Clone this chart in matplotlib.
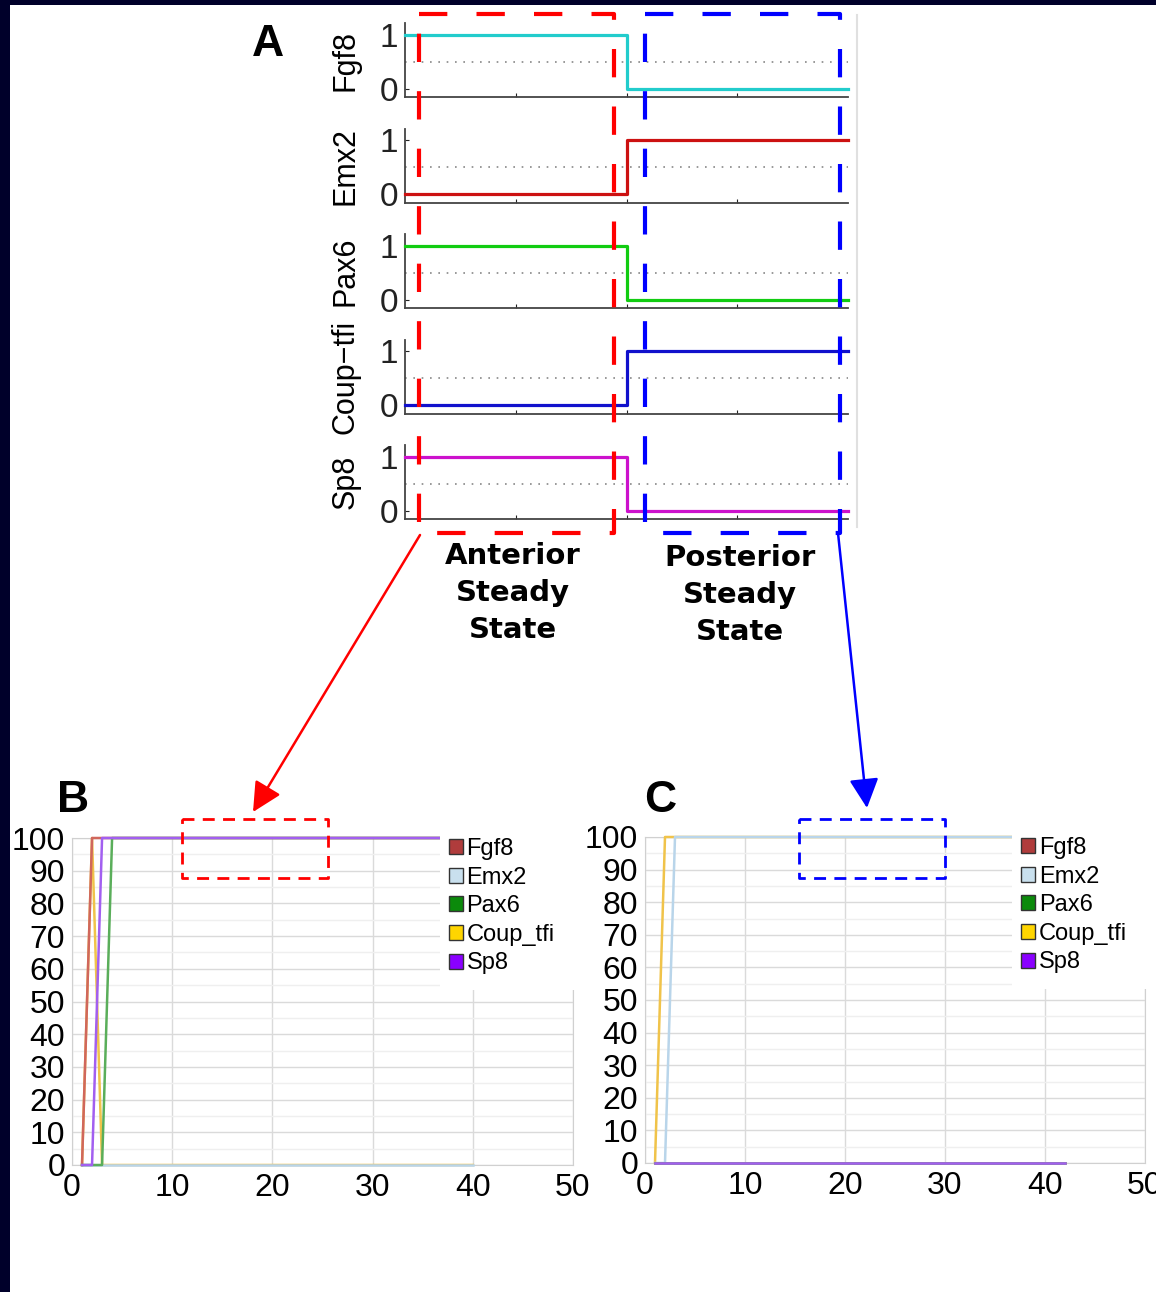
import matplotlib.pyplot as plt
from matplotlib.patches import Rectangle, Patch

W, H = 1156, 1292
plt.rcParams['font.family'] = ['Liberation Sans', 'DejaVu Sans']

# panel A: boolean steady states (anterior -> posterior)
genes_a = ['Fgf8', 'Emx2', 'Pax6', 'Coup\u2212tfi', 'Sp8']
anterior = [1, 0, 1, 0, 1]
posterior = [0, 1, 0, 1, 0]
x_a = [0, 2, 4]
colors_a = ['#22cccc', '#cc1111', '#11cc11', '#1111cc', '#cc11cc']

# panels B and C: % of simulations in state 1 over time
genes = ['Fgf8', 'Emx2', 'Pax6', 'Coup_tfi', 'Sp8']
t_b = [1, 2, 3, 4, 40]
fgf8_b = [0, 100, 100, 100, 100]
emx2_b = [0, 0, 0, 0, 0]
pax6_b = [0, 0, 0, 100, 100]
coup_b = [0, 100, 0, 0, 0]
sp8_b = [0, 0, 100, 100, 100]

t_c = [1, 2, 3, 42]
fgf8_c = [0, 0, 0, 0]
emx2_c = [0, 0, 100, 100]
pax6_c = [0, 0, 0, 0]
coup_c = [0, 100, 100, 100]
sp8_c = [0, 0, 0, 0]

line_colors = ['#d0675c', '#b9d5ea', '#5aae5a', '#f0c34a', '#a25ff0']
legend_colors = ['#b03c3c', '#c9e0ee', '#0b8a0b', '#ffd500', '#8a00ff']
draw_order = [3, 1, 0, 2, 4]


def px_box(l, t, r, b):
    return [l / W, 1 - b / H, (r - l) / W, (b - t) / H]


fig = plt.figure(figsize=(W / 100, H / 100), dpi=100)
fig.patch.set_facecolor('#00002a')
fig.add_artist(Rectangle((10 / W, 0), 1 - 10 / W, 1 - 5 / H, transform=fig.transFigure,
                         facecolor='white', edgecolor='none', zorder=-5))

# ---- panel A
for i in range(5):
    y0 = 89 + 105.5 * i
    ax = fig.add_axes(px_box(405, y0 - 65.9, 848, y0 + 8.1))
    ax.patch.set_alpha(0)
    ax.set_xlim(0, 4)
    ax.set_ylim(-0.15, 1.22)
    ax.step(x_a, [anterior[i], posterior[i], posterior[i]], where='post',
            color=colors_a[i], lw=2.3, clip_on=False, zorder=3)
    ax.axhline(0.5, color='#888888', ls=(0, (1, 4)), lw=1.2)
    for s in ['top', 'right']:
        ax.spines[s].set_visible(False)
    for s in ['left', 'bottom']:
        ax.spines[s].set_color('#444444')
        ax.spines[s].set_linewidth(1.3)
    ax.set_yticks([0, 1])
    ax.set_xticks([1, 2, 3])
    ax.set_xticklabels([])
    ax.tick_params(direction='in', length=3, labelsize=24, pad=5, colors='#222222')
    ax.set_ylabel(genes_a[i], fontsize=22)
    ax.yaxis.set_label_coords(-0.1, 0.5)

# ---- panels B and C
panels = [
    (px_box(72, 838, 573, 1165), t_b, [fgf8_b, emx2_b, pax6_b, coup_b, sp8_b]),
    (px_box(645, 837, 1145, 1163), t_c, [fgf8_c, emx2_c, pax6_c, coup_c, sp8_c]),
]
for box, t, vals in panels:
    ax = fig.add_axes(box)
    for k in draw_order:
        ax.plot(t, vals[k], color=line_colors[k], lw=1.8, clip_on=False, zorder=3)
    ax.set_xlim(0, 50)
    ax.set_ylim(0, 100)
    ax.set_xticks(range(0, 51, 10))
    ax.set_yticks(range(0, 101, 10))
    ax.set_yticks(range(5, 100, 10), minor=True)
    ax.grid(which='major', color='#dadada', lw=1)
    ax.grid(which='minor', axis='y', color='#efefef', lw=1)
    ax.set_axisbelow(True)
    ax.tick_params(which='both', length=0)
    ax.tick_params(axis='y', labelsize=23, pad=5)
    ax.tick_params(axis='x', labelsize=23, pad=6)
    for s in ax.spines.values():
        s.set_color('#d0d0d0')
    ax.add_patch(Rectangle((0.7345, 0.535), 0.35, 0.5, transform=ax.transAxes,
                           facecolor='white', edgecolor='none', zorder=4, clip_on=False))
    handles = [Patch(facecolor=c, edgecolor='#333333', lw=1) for c in legend_colors]
    leg = ax.legend(handles, genes, loc='upper left', bbox_to_anchor=(0.752, 1.0),
                    frameon=False, fontsize=17, handlelength=0.6, handleheight=0.6,
                    handletextpad=0.15, labelspacing=0.28, borderpad=0, borderaxespad=0)
    leg.set_zorder(6)

# ---- overlay annotations (pixel coordinates)
ov = fig.add_axes([0, 0, 1, 1], zorder=10)
ov.set_xlim(0, W)
ov.set_ylim(H, 0)
ov.axis('off')

ov.plot([857, 857], [15, 527], color='#e0e0e0', lw=1.5)
ov.plot([419, 614, 614, 419, 419], [14, 14, 533, 533, 14], color='#ff0000', lw=3, ls=(0, (6.8, 7)))
ov.plot([645, 840, 840, 645, 645], [14, 14, 533, 533, 14], color='#0000ff', lw=3, ls=(0, (6.8, 7)))
ov.plot([182, 328, 328, 182, 182], [819, 819, 878, 878, 819], color='#ff0000', lw=2, ls=(0, (4.3, 3)))
ov.plot([799, 945, 945, 799, 799], [819, 819, 878, 878, 819], color='#0000ff', lw=2, ls=(0, (4.3, 3)))

ov.annotate('', xy=(253, 812), xytext=(420, 535),
            arrowprops=dict(arrowstyle='-|>', color='#ff0000', lw=1.8, mutation_scale=45,
                            shrinkA=0, shrinkB=0))
ov.annotate('', xy=(867, 808), xytext=(838, 533),
            arrowprops=dict(arrowstyle='-|>', color='#0000ff', lw=1.8, mutation_scale=45,
                            shrinkA=0, shrinkB=0))

ov.text(268, 45, 'A', fontsize=32, fontweight='bold', ha='center', va='center')
ov.text(73, 800, 'B', fontsize=32, fontweight='bold', ha='center', va='center')
ov.text(660, 800, 'C', fontsize=32, fontweight='bold', ha='center', va='center')
ov.text(513, 593, 'Anterior\nSteady\nState', fontsize=21, fontweight='bold',
        family='DejaVu Sans', ha='center', va='center', linespacing=1.4)
ov.text(740, 595, 'Posterior\nSteady\nState', fontsize=21, fontweight='bold',
        family='DejaVu Sans', ha='center', va='center', linespacing=1.4)

fig.savefig('out.png', dpi=100, facecolor=fig.get_facecolor())
